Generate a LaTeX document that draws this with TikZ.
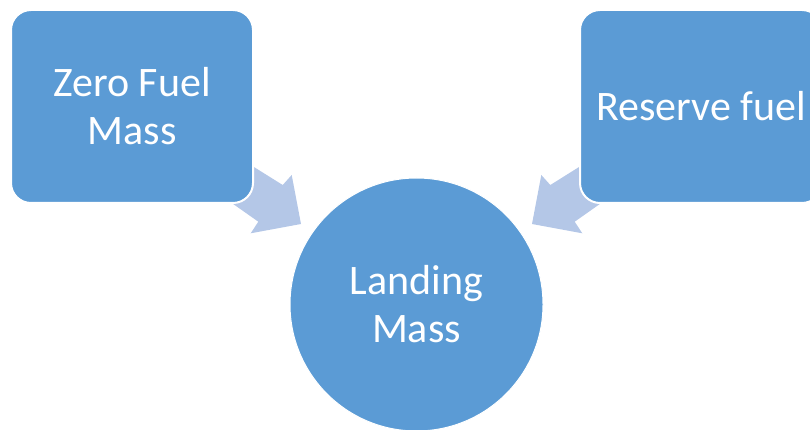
\documentclass[tikz,border=0pt]{standalone}
\usepackage{fontspec}
\setmainfont{Carlito}
\definecolor{boxblue}{HTML}{5B9BD5}
\definecolor{arrowblue}{HTML}{B4C7E7}
\begin{document}
\begin{tikzpicture}[x=1pt,y=-1pt,
  lbl/.style={text=white,align=center,font=\fontsize{42}{48}\selectfont},
  boxnode/.style={lbl,rectangle,rounded corners=20pt,fill=boxblue,draw=white,line width=2pt,
    minimum width=242pt,minimum height=193pt,inner sep=0pt},
  circnode/.style={lbl,circle,fill=boxblue,draw=white,line width=1pt,minimum size=253pt,inner sep=0pt},
  blockarrow/.style={fill=arrowblue}]
\useasboundingbox (0,0) rectangle (810,430);
\clip (0,0) rectangle (810,430);
% block arrows (drawn first, partly covered by the boxes)
\coordinate (la1) at (229.3,151.6);
\coordinate (la2) at (282.7,185);
\coordinate (la3) at (291.7,175);
\coordinate (la4) at (301,224);
\coordinate (la5) at (250.7,233.3);
\coordinate (la6) at (258.3,221.7);
\coordinate (la7) at (213.7,190.3);
\fill[blockarrow] (la1) -- (la2) -- (la3) -- (la4) -- (la5) -- (la6) -- (la7) -- cycle;
\coordinate (ra1) at (603.7,151.6);
\coordinate (ra2) at (550.3,185);
\coordinate (ra3) at (541.3,175);
\coordinate (ra4) at (532,224);
\coordinate (ra5) at (582.3,233.3);
\coordinate (ra6) at (574.7,221.7);
\coordinate (ra7) at (619.3,190.3);
\fill[blockarrow] (ra1) -- (ra2) -- (ra3) -- (ra4) -- (ra5) -- (ra6) -- (ra7) -- cycle;
% nodes
\node[boxnode] (zfm) at (132,106.5) {Zero Fuel\\Mass};
\node[boxnode] (rf) at (701,106.5) {Reserve fuel};
\node[circnode] (lm) at (416.5,304.5) {Landing\\Mass};
\end{tikzpicture}
\end{document}
